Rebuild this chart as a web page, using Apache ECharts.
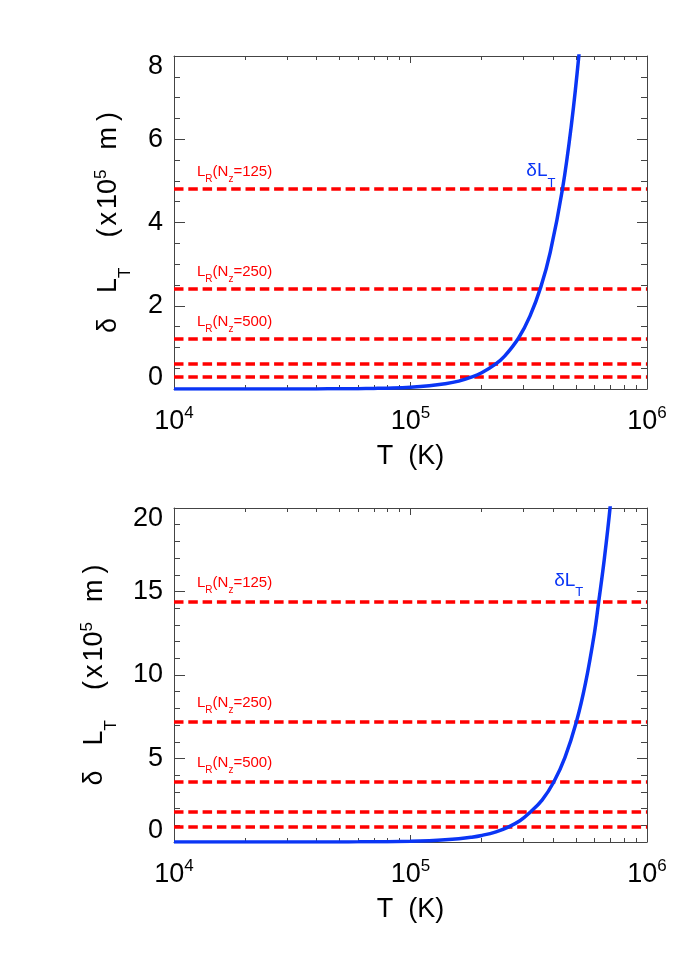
<!DOCTYPE html>
<html><head><meta charset="utf-8">
<script src="https://cdn.jsdelivr.net/npm/echarts@6/dist/echarts.min.js"></script>
<style>html,body{margin:0;padding:0;background:#fff}#c{width:700px;height:953px}</style>
</head><body><div id="c"></div>
<script>
// ---- data ----
const tempTop  = [1e4, 2e4, 3e4, 4e4, 5e4, 6e4, 7e4, 8e4, 1e5, 1.2e5, 1.4e5, 1.6e5, 1.82e5, 2e5, 2.28e5, 2.5e5, 2.86e5, 3.2e5, 3.56e5, 3.9e5, 4.39e5, 4.8e5, 5.17e5, 5.5e5];
const deltaTop = [0.0, 0.0, 0.001, 0.002, 0.005, 0.008, 0.014, 0.021, 0.042, 0.076, 0.125, 0.19, 0.29, 0.39, 0.59, 0.79, 1.22, 1.75, 2.46, 3.29, 4.8, 6.39, 8.1, 9.87];
const tempBot  = [1e4, 2e4, 3e4, 4e4, 5e4, 6e4, 7e4, 8e4, 1e5, 1.2e5, 1.4e5, 1.6e5, 1.8e5, 2e5, 2.3e5, 2.59e5, 2.9e5, 3.17e5, 3.6e5, 4.04e5, 4.5e5, 5.03e5, 5.5e5, 6e5, 6.25e5, 6.6e5, 7e5, 7.3e5];
const deltaBot = [0.0, 0.0, 0.001, 0.0025, 0.005, 0.009, 0.015, 0.022, 0.044, 0.079, 0.128, 0.195, 0.283, 0.394, 0.61, 0.89, 1.27, 1.72, 2.51, 3.61, 5.07, 7.2, 9.54, 12.55, 14.4, 16.95, 20.2, 23.3];
const levelsTop = [4.8, 2.4, 1.2, 0.6, 0.3];
const levelsBot = [14.4, 7.2, 3.6, 1.8, 0.9];
const levelNz = [125, 250, 500];           // labelled levels (first three)
const xRange = [1e4, 1e6];
const xMinorTicks = [2e4, 3e4, 4e4, 5e4, 6e4, 7e4, 8e4, 9e4, 2e5, 3e5, 4e5, 5e5, 6e5, 7e5, 8e5, 9e5];
const yRangeTop = [0, 8], yStepTop = 2, yMinorTop = 4;
const yRangeBot = [0, 20], yStepBot = 5, yMinorBot = 5;
const curveLabelTop = [4.12e5, 5.13];
const curveLabelBot = [5.40e5, 15.39];

// ---- styles ----
const FONT = 'Liberation Sans';
const FR = '#444';
const RED = '#ff0000';
const BLUE = '#0a35f5';

function xAxes(g) {
  const base = { type: 'log', logBase: 10, gridIndex: g, min: xRange[0], max: xRange[1], splitLine: { show: false } };
  return [
    Object.assign({}, base, {
      position: 'bottom',
      axisLine: { show: true, lineStyle: { color: FR, width: 1 } },
      axisTick: { show: true, inside: true, length: 7, lineStyle: { color: FR } },
      axisLabel: {
        margin: 16, color: '#000',
        formatter: v => '{b|10}{e|' + Math.round(Math.log10(v)) + '}',
        rich: {
          b: { fontFamily: FONT, fontSize: 27, color: '#000', verticalAlign: 'top', padding: [3, 0, 0, 0] },
          e: { fontFamily: FONT, fontSize: 17, color: '#000', verticalAlign: 'top' }
        }
      },
      name: 'T  (K)', nameLocation: 'middle', nameGap: 54,
      nameTextStyle: { fontFamily: FONT, fontSize: 27, color: '#000' }
    }),
    Object.assign({}, base, {
      position: 'bottom',
      axisLine: { show: false }, axisLabel: { show: false },
      axisTick: { show: true, inside: true, length: 4, customValues: xMinorTicks, lineStyle: { color: FR } }
    }),
    Object.assign({}, base, {
      position: 'top',
      axisLine: { show: true, lineStyle: { color: FR, width: 1 } }, axisLabel: { show: false },
      axisTick: { show: true, inside: true, length: 7, lineStyle: { color: FR } }
    }),
    Object.assign({}, base, {
      position: 'top',
      axisLine: { show: false }, axisLabel: { show: false },
      axisTick: { show: true, inside: true, length: 4, customValues: xMinorTicks, lineStyle: { color: FR } }
    })
  ];
}

const tm = (pl) => ({ fontFamily: FONT, fontSize: 27, color: '#000', verticalAlign: 'top', padding: [2, 0, 0, pl] });
const titleRich = {
  m0: tm(0), mL: tm(25), mP: tm(30), mX: tm(3), m10: tm(3), mM: tm(20), mC: tm(6),
  s: { fontFamily: FONT, fontSize: 17, color: '#000', verticalAlign: 'top', padding: [24, 0, 0, 0] },
  p: { fontFamily: FONT, fontSize: 17, color: '#000', verticalAlign: 'top' }
};
const titleText = '{m0|δ}{mL|L}{s|T}{mP|(}{mX|x}{m10|10}{p|5}{mM|m}{mC|)}';

function yAxes(g, range, step, minor, nameGap) {
  const base = { type: 'value', gridIndex: g, min: range[0], max: range[1], interval: step, splitLine: { show: false } };
  return [
    Object.assign({}, base, {
      position: 'left',
      axisLine: { show: true, lineStyle: { color: FR, width: 1 } },
      axisTick: { show: true, inside: true, length: 11, lineStyle: { color: FR } },
      minorTick: { show: true, splitNumber: minor, length: 6, lineStyle: { color: FR } },
      axisLabel: { margin: 11, fontFamily: FONT, fontSize: 27, lineHeight: 22, color: '#000',
                   verticalAlignMinLabel: 'bottom', verticalAlignMaxLabel: 'top' },
      name: titleText,
      nameLocation: 'middle', nameRotate: 90, nameGap: nameGap,
      nameTextStyle: { rich: titleRich }
    }),
    Object.assign({}, base, {
      position: 'right',
      axisLine: { show: true, lineStyle: { color: FR, width: 1 } },
      axisTick: { show: true, inside: true, length: 10, lineStyle: { color: FR } },
      minorTick: { show: true, splitNumber: minor, length: 6, lineStyle: { color: FR } },
      axisLabel: { show: false }
    })
  ];
}

const redRich = {
  a: { fontFamily: FONT, fontSize: 15, color: RED, verticalAlign: 'top' },
  s: { fontFamily: FONT, fontSize: 10, color: RED, verticalAlign: 'top', padding: [10, 0, 0, 0] }
};
const blueRich = {
  d: { fontFamily: FONT, fontSize: 19, color: BLUE, verticalAlign: 'top' },
  s: { fontFamily: FONT, fontSize: 13, color: BLUE, verticalAlign: 'top', padding: [15, 0, 0, 0] }
};

function levelSeries(xi, yi, levels, dy) {
  return {
    type: 'line', xAxisIndex: xi, yAxisIndex: yi, data: [], silent: true, z: 1,
    markLine: {
      z: 1, silent: true, animation: false, symbol: ['none', 'none'],
      lineStyle: { color: RED, width: 3.5, type: [9.5, 4.8] },
      emphasis: { disabled: true },
      data: levels.map((v, i) => ({
        yAxis: v,
        label: i < levelNz.length ? {
          show: true, position: 'insideStartTop', distance: [23, dy],
          formatter: '{a|L}{s|R}{a|(N}{s|z}{a|=' + levelNz[i] + ')}', rich: redRich
        } : { show: false }
      }))
    }
  };
}

function curveSeries(xi, yi, temps, vals, labelCoord) {
  return {
    type: 'line', xAxisIndex: xi, yAxisIndex: yi, z: 3,
    data: temps.map((t, i) => [t, vals[i]]),
    showSymbol: false, symbol: 'none', smooth: 0.4,
    lineStyle: { color: BLUE, width: 3.5 },
    markPoint: {
      silent: true, animation: false, symbol: 'rect', symbolSize: 1,
      itemStyle: { color: 'rgba(0,0,0,0)' },
      data: [{ coord: labelCoord,
        label: { show: true, position: 'left', distance: 0, formatter: '{d|δL}{s|T}', rich: blueRich } }]
    }
  };
}

const chart = echarts.init(document.getElementById('c'), null, { renderer: 'canvas' });
chart.setOption({
  animation: false,
  backgroundColor: '#fff',
  grid: [
    { left: 174, right: 53, top: 56, height: 333 },
    { left: 174, right: 53, top: 508, height: 334 }
  ],
  xAxis: xAxes(0).concat(xAxes(1)),
  yAxis: yAxes(0, yRangeTop, yStepTop, yMinorTop, 40).concat(yAxes(1, yRangeBot, yStepBot, yMinorBot, 54)),
  series: [
    levelSeries(0, 0, levelsTop, 4.5),
    curveSeries(0, 0, tempTop, deltaTop, curveLabelTop),
    levelSeries(4, 2, levelsBot, 6.5),
    curveSeries(4, 2, tempBot, deltaBot, curveLabelBot)
  ]
});
</script>
</body></html>
